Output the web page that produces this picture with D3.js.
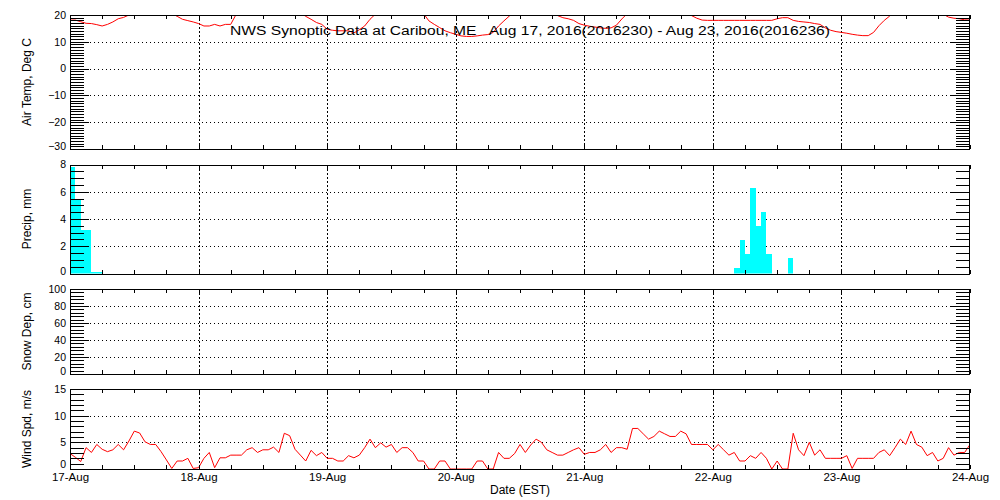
<!DOCTYPE html>
<html>
<head>
<meta charset="utf-8">
<script src="https://cdn.jsdelivr.net/npm/d3@7"></script>
<style>
  html, body { margin: 0; padding: 0; background: #fff; }
  svg { display: block; }
  text { font-family: "Liberation Sans", Arial, sans-serif; fill: #000; }
</style>
</head>
<body>
<svg id="chart" width="1000" height="500"></svg>
<script>
// ---------- DATA (hourly from 17-Aug-2016 00:00 EST) ----------
const titleText = "NWS Synoptic Data at Caribou, ME   Aug 17, 2016(2016230) - Aug 23, 2016(2016236)";
const dayLabels = ["17-Aug","18-Aug","19-Aug","20-Aug","21-Aug","22-Aug","23-Aug","24-Aug"];

const airTemp = [
  18.1,18.1,17.5,16.9,16.8,16.4,15.9,16.5,17.4,18.6,19.1,20.0,21.5,23.0,24.5,25.0,24.5,23.0,21.5,20.6,
  19.5,18.4,17.9,17.4,16.8,15.9,15.9,16.5,15.9,16.5,16.5,20.2,22.0,24.0,25.5,26.5,27.0,27.0,26.5,25.5,
  24.0,23.0,22.0,20.8,19.5,18.4,17.2,16.5,14.7,14.3,14.1,14.1,14.1,13.3,14.5,15.9,18.4,20.3,22.0,24.0,
  25.5,26.5,27.0,26.5,25.0,23.0,20.5,17.8,16.5,15.3,14.1,13.4,12.8,12.2,12.0,12.0,12.2,12.5,12.7,13.5,
  15.9,17.8,19.6,21.0,22.5,24.0,25.0,25.0,24.5,23.0,21.2,19.8,19.0,18.6,18.0,16.8,16.2,15.8,15.5,15.2,
  15.0,15.2,16.2,18.5,20.5,22.5,24.0,25.5,26.0,26.0,25.5,24.5,23.5,22.5,21.5,20.6,19.8,18.8,18.1,18.0,
  18.0,18.0,18.0,18.0,18.0,18.0,18.0,18.0,18.0,18.0,18.0,18.0,18.6,19.0,19.0,18.0,17.6,17.4,17.2,16.8,
  16.5,15.2,14.3,13.8,13.5,13.2,12.8,12.5,12.3,12.3,13.5,16.0,18.0,19.6,21.0,22.5,24.0,25.0,25.5,25.0,
  24.0,23.0,21.5,20.3,19.2,18.8,18.6,18.2,18.1
];

const precipStartHour = [0, 1, 2, 3, 4, 5, 124, 125, 126, 127, 128, 129, 130, 134];
const precipMm        = [7.8, 5.5, 3.2, 3.2, 0.1, 0.1, 0.4, 2.45, 1.43, 6.26, 3.48, 4.5, 1.43, 1.13];

const snowDepth = []; // no reports

const windSpd = [
  2.9,2.2,1.4,4.0,3.1,4.6,3.7,3.25,3.6,4.6,3.6,5.25,7.1,6.75,5.1,4.6,4.6,3.25,1.7,0.1,
  1.5,1.5,2.0,0.1,0.25,2.0,3.1,0.25,2.1,2.1,2.6,2.6,2.6,3.6,4.0,3.1,3.6,3.6,4.1,3.1,
  6.7,6.25,3.7,2.6,1.5,3.5,2.5,3.1,2.0,2.0,1.5,1.5,2.5,2.1,2.6,4.0,5.6,4.0,4.9,4.1,
  4.6,3.1,4.0,4.0,3.1,1.5,1.5,0,0,1.5,1.5,0,0,0,0,0,1.5,1.5,0,0,
  3.1,2.0,2.0,2.9,4.6,3.1,4.5,5.6,5.0,3.6,3.1,2.6,2.6,3.1,3.6,4.0,2.75,3.1,3.1,3.6,
  4.6,3.1,4.0,4.0,3.7,7.6,7.6,6.6,5.6,6.1,7.1,6.6,6.1,6.1,7.1,6.6,4.6,4.6,4.6,4.6,
  3.6,4.6,3.6,2.6,3.1,1.5,1.5,2.5,2.0,3.1,2.0,0,1.5,0,0,6.7,3.6,2.5,5.0,2.6,
  3.6,2.0,2.0,2.0,2.0,2.5,0.1,2.0,2.0,2.0,2.0,3.1,3.6,2.5,4.0,5.6,4.6,7.1,4.6,4.1,
  2.5,3.1,1.5,2.0,4.0,2.6,3.1,3.1,4.6
];

// axis definitions
const tempMajor = [-30,-20,-10,0,10,20];
const precipMajor = [0,2,4,6,8];
const snowMajor = [0,20,40,60,80,100];
const windMajor = [0,5,10,15];

// ---------- LAYOUT ----------
const svg = d3.select("#chart");
const X0 = 70, X1 = 970;
const t0 = Date.UTC(2016, 7, 17);
const hourDate = h => new Date(t0 + h * 3600e3);
const x = d3.scaleUtc().domain([hourDate(0), hourDate(168)]).range([X0, X1]);

const panels = [
  { key: "temp",   label: "Air Temp, Deg C", top: 15,    bottom: 149,   domain: [-30, 20], major: tempMajor,   minorStep: 1,   lowShift: -2.5 },
  { key: "precip", label: "Precip, mm",      top: 164.5, bottom: 273.5, domain: [0, 8],    major: precipMajor, minorStep: 0.5, lowShift: -2.5 },
  { key: "snow",   label: "Snow Dep, cm",    top: 289,   bottom: 374,   domain: [0, 100],  major: snowMajor,   minorStep: 4,   lowShift: -2.5 },
  { key: "wind",   label: "Wind Spd, m/s",   top: 389,   bottom: 469,   domain: [0, 15],   major: windMajor,   minorStep: 1,   lowShift: -4.5 }
];

const sixHourTicks = d3.range(0, 169, 6).map(hourDate);
const dayTicks = d3.range(0, 169, 24).map(hourDate);

panels.forEach((p, pi) => {
  const y = d3.scaleLinear().domain(p.domain).range([p.bottom, p.top]);
  p.y = y;
  const g = svg.append("g");

  // clip
  const clipId = "clip" + pi;
  svg.append("clipPath").attr("id", clipId)
    .append("rect").attr("x", X0).attr("y", p.top).attr("width", X1 - X0).attr("height", p.bottom - p.top);

  // gridlines
  const innerMajor = p.major.filter(v => v > p.domain[0] && v < p.domain[1]);
  g.selectAll(".hgrid").data(innerMajor).join("line")
    .attr("x1", X0).attr("x2", X1)
    .attr("y1", d => Math.round(y(d)) + 0.5).attr("y2", d => Math.round(y(d)) + 0.5)
    .attr("stroke", "#000").attr("stroke-width", 1).attr("stroke-dasharray", "1,3")
    .attr("shape-rendering", "crispEdges");
  g.selectAll(".vgrid").data(dayTicks.slice(1, -1)).join("line")
    .attr("x1", d => Math.round(x(d)) + 0.5).attr("x2", d => Math.round(x(d)) + 0.5)
    .attr("y1", p.top).attr("y2", p.bottom)
    .attr("stroke", "#000").attr("stroke-width", 1).attr("stroke-dasharray", "2,2")
    .attr("shape-rendering", "crispEdges");

  // data
  const dg = svg.append("g").attr("clip-path", `url(#${clipId})`);
  if (p.key === "temp") {
    dg.append("path").datum(airTemp)
      .attr("fill", "none").attr("stroke", "#ff0000").attr("stroke-width", 1)
      .attr("d", d3.line().x((d, i) => x(hourDate(i))).y(d => y(d)));
  } else if (p.key === "precip") {
    dg.selectAll("rect").data(precipMm).join("rect")
      .attr("x", (d, i) => x(hourDate(precipStartHour[i])))
      .attr("width", (d, i) => x(hourDate(precipStartHour[i] + 1)) - x(hourDate(precipStartHour[i])))
      .attr("y", d => y(d))
      .attr("height", d => y(0) - y(d))
      .attr("fill", "#00ffff")
      .attr("shape-rendering", "crispEdges");
  } else if (p.key === "snow") {
    dg.append("path").datum(snowDepth)
      .attr("fill", "none").attr("stroke", "#ff0000")
      .attr("d", d3.line().x((d, i) => x(hourDate(i))).y(d => y(d)));
  } else if (p.key === "wind") {
    dg.append("path").datum(windSpd)
      .attr("fill", "none").attr("stroke", "#ff0000").attr("stroke-width", 1)
      .attr("d", d3.line().x((d, i) => x(hourDate(i))).y(d => y(d)));
  }

  // y axes: minor + major ticks inward on both sides
  const minorVals = d3.range(p.domain[0], p.domain[1] + 1e-9, p.minorStep)
    .filter(v => !p.major.includes(+v.toFixed(3)));
  const styleAxis = sel => {
    sel.select(".domain").remove();
    sel.selectAll("line").attr("stroke", "#000").attr("shape-rendering", "crispEdges");
  };
  svg.append("g").attr("transform", `translate(${X0},0)`)
    .call(d3.axisLeft(y).tickValues(minorVals).tickSize(-14).tickFormat(""))
    .call(styleAxis);
  const leftMajor = svg.append("g").attr("transform", `translate(${X0},0)`)
    .call(d3.axisLeft(y).tickValues(p.major).tickSize(-19).tickPadding(4).tickFormat(d3.format("d")))
    .call(styleAxis);
  leftMajor.selectAll("text")
    .attr("font-size", 10.5)
    .attr("font-family", '"Liberation Sans", Arial, sans-serif')
    .attr("y", d => d === p.domain[0] ? p.lowShift : 0);
  svg.append("g").attr("transform", `translate(${X1},0)`)
    .call(d3.axisRight(y).tickValues(minorVals).tickSize(-14).tickFormat(""))
    .call(styleAxis);
  svg.append("g").attr("transform", `translate(${X1},0)`)
    .call(d3.axisRight(y).tickValues(p.major).tickSize(-19).tickFormat(""))
    .call(styleAxis);

  // x ticks top and bottom (every 6 h, inward)
  svg.append("g").attr("transform", `translate(0,${p.top})`)
    .call(d3.axisTop(x).tickValues(sixHourTicks).tickSize(-4).tickFormat(""))
    .call(styleAxis);
  svg.append("g").attr("transform", `translate(0,${p.bottom})`)
    .call(d3.axisBottom(x).tickValues(sixHourTicks).tickSize(-4).tickFormat(""))
    .call(styleAxis);

  // frame
  svg.append("rect")
    .attr("x", X0 + 0.5).attr("y", Math.round(p.top) + 0.5)
    .attr("width", X1 - X0 - 1).attr("height", Math.round(p.bottom) - Math.round(p.top))
    .attr("fill", "none").attr("stroke", "#000").attr("stroke-width", 1)
    .attr("shape-rendering", "crispEdges");

  // y label
  svg.append("text")
    .attr("transform", `translate(31,${(p.top + p.bottom) / 2}) rotate(-90)`)
    .attr("text-anchor", "middle")
    .attr("font-size", 12)
    .text(p.label);
});

// bottom day labels
const last = panels[panels.length - 1];
const dayAxis = svg.append("g").attr("transform", `translate(0,${last.bottom})`)
  .call(d3.axisBottom(x).tickValues(dayTicks).tickSize(0).tickPadding(4)
    .tickFormat((d, i) => dayLabels[i]));
dayAxis.select(".domain").remove();
dayAxis.selectAll("text").attr("font-size", 11.5).attr("font-family", '"Liberation Sans", Arial, sans-serif');

// x title
svg.append("text")
  .attr("x", 520).attr("y", 494)
  .attr("text-anchor", "middle")
  .attr("font-size", 12)
  .text("Date (EST)");

// title
svg.append("text")
  .attr("x", 230).attr("y", 35)
  .attr("font-size", 12.5)
  .attr("textLength", 600)
  .attr("lengthAdjust", "spacingAndGlyphs")
  .style("white-space", "pre")
  .text(titleText);
</script>
</body>
</html>
